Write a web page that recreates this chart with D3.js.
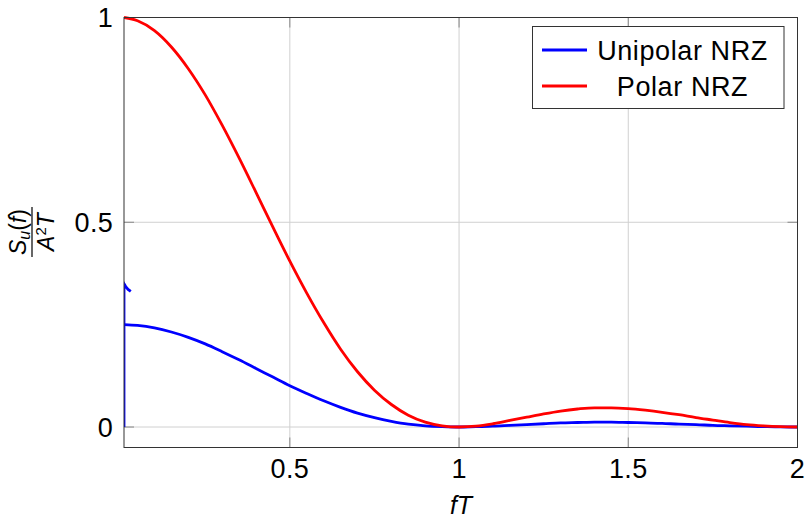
<!DOCTYPE html>
<html>
<head>
<meta charset="utf-8">
<script src="https://cdn.jsdelivr.net/npm/d3@7"></script>
<style>
  body { margin: 0; background: #fff; }
  svg { font-family: "Liberation Sans", Arial, sans-serif; }
</style>
</head>
<body>
<svg id="chart" width="809" height="521"></svg>
<script>
// values
const fT = [0.01, 0.05, 0.1, 0.15, 0.2, 0.25, 0.3, 0.35, 0.4, 0.45, 0.5, 0.55, 0.6, 0.65, 0.7, 0.75, 0.8, 0.85, 0.9, 0.95,
  1.0, 1.05, 1.1, 1.15, 1.2, 1.25, 1.3, 1.35, 1.4, 1.45, 1.5, 1.55, 1.6, 1.65, 1.7, 1.75, 1.8, 1.85, 1.9, 1.95, 2.0]
const polar = [1.0, 0.992, 0.968, 0.928, 0.875, 0.811, 0.737, 0.657, 0.573, 0.488, 0.405, 0.327, 0.255, 0.190, 0.135, 0.090, 0.055, 0.029, 0.012, 0.003,
  0, 0.002, 0.008, 0.016, 0.024, 0.032, 0.039, 0.044, 0.047, 0.047, 0.045, 0.041, 0.036, 0.030, 0.023, 0.017, 0.011, 0.006, 0.003, 0.001, 0]
const unipolar = [0.250, 0.248, 0.242, 0.232, 0.219, 0.203, 0.184, 0.164, 0.143, 0.122, 0.101, 0.082, 0.064, 0.048, 0.034, 0.023, 0.014, 0.007, 0.003, 0.001,
  0, 0.001, 0.002, 0.004, 0.006, 0.008, 0.010, 0.011, 0.012, 0.012, 0.011, 0.010, 0.009, 0.007, 0.006, 0.004, 0.003, 0.002, 0.001, 0.0002, 0]
// impulse at the origin (unipolar DC term)
const spikeX = [0.01, 0.01, 0.015, 0.022, 0.03]
const spikeY = [0, 0.35, 0.343, 0.336, 0.331]

const xTicks = [0.5, 1, 1.5, 2]
const yTicks = [0, 0.5, 1]
const seriesNames = ['Unipolar NRZ', 'Polar NRZ']
const seriesColors = ['#0000ff', '#ff0000']

const svg = d3.select('#chart')
const m = { left: 124, right: 797.5, top: 17.5, bottom: 447.5 }

const x = d3.scaleLinear().domain([0.01, 2]).range([m.left, m.right])
const y = d3.scaleLinear().domain([-0.05, 1]).range([m.bottom, m.top])

// grid
const grid = svg.append('g').attr('stroke', '#d0d0d0').attr('stroke-width', 1)
xTicks.forEach(t => {
  grid.append('line').attr('x1', x(t)).attr('x2', x(t)).attr('y1', m.top).attr('y2', m.bottom)
})
yTicks.forEach(t => {
  grid.append('line').attr('x1', m.left).attr('x2', m.right).attr('y1', y(t)).attr('y2', y(t))
})

// tick marks (inside, both sides)
const ticks = svg.append('g').attr('stroke', '#888').attr('stroke-width', 1)
xTicks.forEach(t => {
  ticks.append('line').attr('x1', x(t)).attr('x2', x(t)).attr('y1', m.bottom).attr('y2', m.bottom - 10)
  ticks.append('line').attr('x1', x(t)).attr('x2', x(t)).attr('y1', m.top).attr('y2', m.top + 10)
})
yTicks.forEach(t => {
  ticks.append('line').attr('x1', m.left).attr('x2', m.left + 10).attr('y1', y(t)).attr('y2', y(t))
  ticks.append('line').attr('x1', m.right).attr('x2', m.right - 10).attr('y1', y(t)).attr('y2', y(t))
})

// curves
const line = d3.line().x(d => x(d[0])).y(d => y(d[1])).curve(d3.curveMonotoneX)
const clip = svg.append('clipPath').attr('id', 'clip')
clip.append('rect').attr('x', m.left).attr('y', m.top - 2).attr('width', m.right - m.left).attr('height', m.bottom - m.top + 2)

const plot = svg.append('g').attr('clip-path', 'url(#clip)')
plot.append('path')
  .attr('d', d3.line().x(d => x(d[0])).y(d => y(d[1])).curve(d3.curveLinear)(spikeX.map((v, i) => [v, spikeY[i]])))
  .attr('fill', 'none').attr('stroke', seriesColors[0]).attr('stroke-width', 2.8)
plot.append('path')
  .attr('d', line(fT.map((v, i) => [v, unipolar[i]])))
  .attr('fill', 'none').attr('stroke', seriesColors[0]).attr('stroke-width', 2.8)
plot.append('path')
  .attr('d', line(fT.map((v, i) => [v, polar[i]])))
  .attr('fill', 'none').attr('stroke', seriesColors[1]).attr('stroke-width', 2.8)

// frame
svg.append('rect')
  .attr('x', m.left).attr('y', m.top)
  .attr('width', m.right - m.left).attr('height', m.bottom - m.top)
  .attr('fill', 'none').attr('stroke', '#333').attr('stroke-width', 1)

// tick labels
const fmt = d => d3.format('~g')(d)
svg.append('g').selectAll('text').data(xTicks).join('text')
  .attr('x', d => x(d)).attr('y', 478)
  .attr('text-anchor', 'middle').attr('font-size', 27).attr('letter-spacing', 0.3).text(fmt)
svg.append('g').selectAll('text').data(yTicks).join('text')
  .attr('x', 113).attr('y', d => y(d) + 9.5)
  .attr('text-anchor', 'end').attr('font-size', 27).attr('letter-spacing', 0.3).text(fmt)

// x axis label
svg.append('text').attr('x', 461).attr('y', 514)
  .attr('text-anchor', 'middle').attr('font-size', 25).attr('font-style', 'italic').text('fT')

// y axis label as fraction
const yl = svg.append('g').attr('transform', 'translate(32,232) rotate(-90)')
yl.append('line').attr('x1', -25).attr('x2', 25).attr('y1', 0).attr('y2', 0).attr('stroke', '#000').attr('stroke-width', 1.2)
const num = yl.append('text').attr('x', 0).attr('y', -6).attr('text-anchor', 'middle').attr('font-size', 23)
num.append('tspan').attr('font-style', 'italic').text('S')
num.append('tspan').attr('font-style', 'italic').attr('font-size', 16).attr('dy', 4).text('u')
num.append('tspan').attr('dy', -4).text('(')
num.append('tspan').attr('font-style', 'italic').text('f')
num.append('tspan').text(')')
const den = yl.append('text').attr('x', 0).attr('y', 22).attr('text-anchor', 'middle').attr('font-size', 23)
den.append('tspan').attr('font-style', 'italic').text('A')
den.append('tspan').attr('font-size', 15).attr('dy', -8).text('2')
den.append('tspan').attr('font-style', 'italic').attr('dy', 8).text('T')

// legend
const lg = svg.append('g')
lg.append('rect').attr('x', 532.5).attr('y', 26.5).attr('width', 251.5).attr('height', 82)
  .attr('fill', '#fff').attr('stroke', '#333').attr('stroke-width', 1)
seriesNames.forEach((name, i) => {
  const cy = 50 + i * 36
  lg.append('line').attr('x1', 542).attr('x2', 587).attr('y1', cy).attr('y2', cy)
    .attr('stroke', seriesColors[i]).attr('stroke-width', 2.8)
  lg.append('text').attr('x', 682.5).attr('y', cy + 10).attr('text-anchor', 'middle')
    .attr('font-size', 27).attr('letter-spacing', 0.6).text(name)
})
</script>
</body>
</html>
